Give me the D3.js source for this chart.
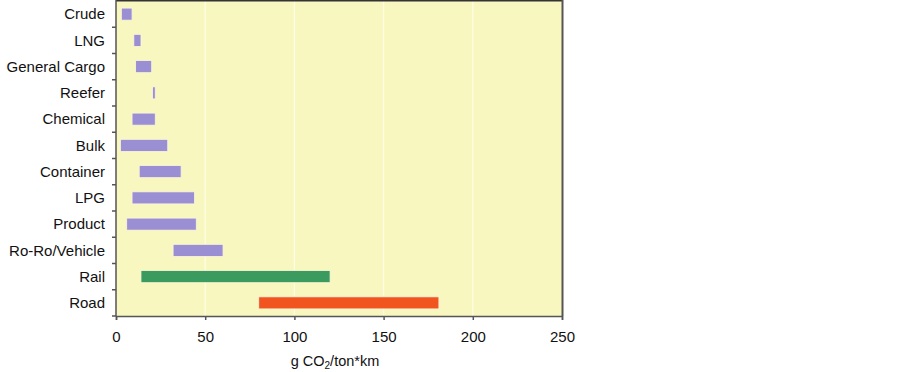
<!DOCTYPE html>
<html><head><meta charset="utf-8">
<script src="https://cdn.jsdelivr.net/npm/d3@7"></script>
<style>body{margin:0;background:#fff;}svg{display:block;font-family:"Liberation Sans",Arial,sans-serif;}</style>
</head><body>
<svg id="c" width="902" height="372"></svg>
<script>
const categories = ["Crude","LNG","General Cargo","Reefer","Chemical","Bulk","Container","LPG","Product","Ro-Ro/Vehicle","Rail","Road"];
const lowValues  = [3, 10, 11, 20.5, 9, 2.5, 13, 9, 6, 32, 14, 80];
const highValues = [9, 14, 20, 22, 22, 29, 36.5, 44, 45, 60, 120, 181];
const barColors  = ["#9b8fd3","#9b8fd3","#9b8fd3","#9b8fd3","#9b8fd3","#9b8fd3","#9b8fd3","#9b8fd3","#9b8fd3","#9b8fd3","#3b9a5e","#f1541f"];
const xTicks = [0, 50, 100, 150, 200, 250];

const svg = d3.select("#c");
const L = 116, R = 562, T = 1, B = 316;
const x = d3.scaleLinear().domain([0, 250]).range([L, R]);
const y = d3.scaleBand().domain(categories).range([T, B]).paddingInner(0.54).paddingOuter(0.27);

svg.append("rect").attr("x", L).attr("y", T).attr("width", R - L).attr("height", B - T).attr("fill", "#f8f7c0");

svg.append("g").selectAll("line").data(xTicks.slice(1, -1)).join("line")
  .attr("x1", d => x(d)).attr("x2", d => x(d)).attr("y1", T).attr("y2", B)
  .attr("stroke", "#fdfde6").attr("stroke-width", 1.2);

svg.append("g").selectAll("rect").data(categories).join("rect")
  .attr("x", (d, i) => x(lowValues[i]))
  .attr("y", d => y(d))
  .attr("width", (d, i) => x(highValues[i]) - x(lowValues[i]))
  .attr("height", y.bandwidth())
  .attr("fill", (d, i) => barColors[i])
  .attr("stroke", "#fbf6d8").attr("stroke-width", 0.8);

// borders
svg.append("line").attr("x1", L).attr("x2", R + 1).attr("y1", T - 0.5).attr("y2", T - 0.5).attr("stroke", "#333").attr("stroke-width", 2);
svg.append("line").attr("x1", R + 0.5).attr("x2", R + 0.5).attr("y1", 0).attr("y2", B).attr("stroke", "#555").attr("stroke-width", 2);

// y axis
const yAxis = svg.append("g").attr("transform", `translate(${L},0)`);
yAxis.append("line").attr("x1", 0).attr("x2", 0).attr("y1", 0).attr("y2", B).attr("stroke", "#555").attr("stroke-width", 1.5);
const boundaries = d3.range(1, categories.length + 1).map(i => T + (B - T) * i / categories.length);
yAxis.selectAll("line.t").data(boundaries).join("line").attr("class", "t")
  .attr("x1", -4).attr("x2", 0).attr("y1", d => d).attr("y2", d => d)
  .attr("stroke", "#555").attr("stroke-width", 1.5);
yAxis.selectAll("text").data(categories).join("text")
  .attr("x", -11).attr("y", d => y(d) + y.bandwidth() / 2)
  .attr("dy", "0.35em").attr("text-anchor", "end")
  .attr("font-size", 15).attr("fill", "#111").text(d => d);

// x axis
const xAxis = svg.append("g").attr("transform", `translate(0,${B})`)
  .call(d3.axisBottom(x).tickValues(xTicks).tickSize(4).tickPadding(11));
xAxis.select(".domain").attr("stroke", "#555").attr("stroke-width", 1.5);
xAxis.selectAll(".tick line").attr("stroke", "#555").attr("stroke-width", 1.5);
xAxis.selectAll("text").attr("font-size", 15).attr("fill", "#111").attr("font-family", "Liberation Sans, Arial, sans-serif");

const title = svg.append("text").attr("x", 335).attr("y", 366).attr("text-anchor", "middle")
  .attr("font-size", 14.5).attr("fill", "#111");
title.append("tspan").text("g CO");
title.append("tspan").attr("font-size", 10).attr("dy", 3).text("2");
title.append("tspan").attr("dy", -3).text("/ton*km");
</script>
</body></html>
